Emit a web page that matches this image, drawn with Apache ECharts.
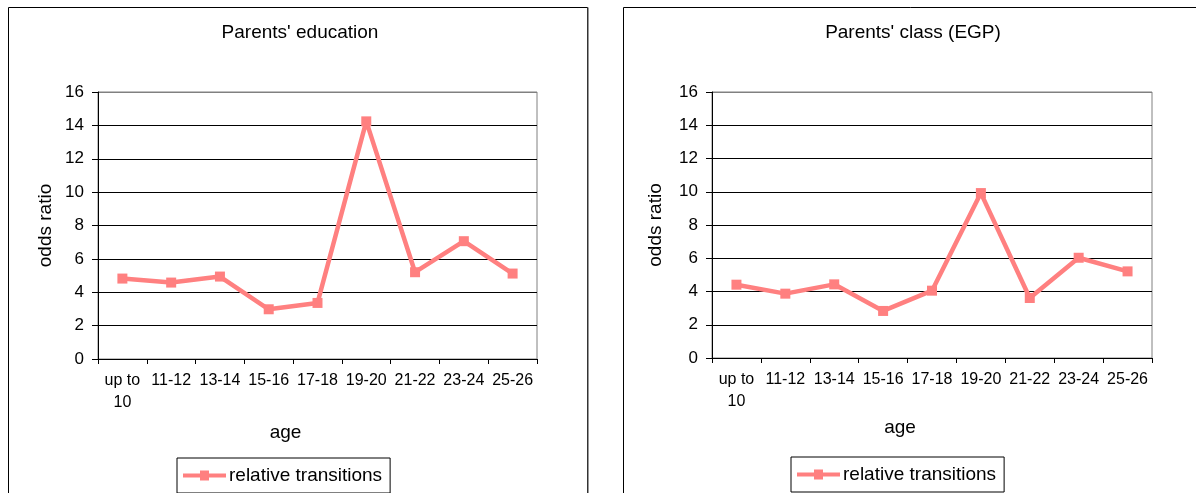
<!DOCTYPE html>
<html>
<head>
<meta charset="utf-8">
<title>Relative transitions by age</title>
<script src="https://cdn.jsdelivr.net/npm/echarts@6/dist/echarts.min.js"></script>
<style>
  html, body { margin: 0; padding: 0; background: #fff; }
  #chart { width: 1196px; height: 493px; }
</style>
</head>
<body>
<div id="chart"></div>
<script>
// Age groups shared by both panels
const ageGroups = ['up to\n10', '11-12', '13-14', '15-16', '17-18', '19-20', '21-22', '23-24', '25-26'];

// Odds ratios of relative transitions
const educationOdds = [4.82, 4.58, 4.94, 2.98, 3.36, 14.24, 5.2, 7.06, 5.12];
const classOdds = [4.41, 3.87, 4.43, 2.83, 4.05, 9.92, 3.61, 6.03, 5.21];

// Panel titles and shared labels
const panelTitles = ["Parents' education", "Parents' class (EGP)"];
const seriesName = 'relative transitions';
const xName = 'age';
const yName = 'odds ratio';

const FONT = '"Liberation Sans", Arial, sans-serif';
const LINE_COLOR = '#FF8080';

// Legend key: a thick line segment with a square marker in the middle
const LEGEND_ICON = 'path://M0,3H43V7H0Z M17,0H26V10H17Z';

// Grid line colours: black for interior ticks, grey where the top frame sits
const gridColors = ['#000', '#000', '#000', '#000', '#000', '#000', '#000', '#000', '#808080'];

function xAxis(gridIndex, nameGap) {
  return {
    type: 'category',
    gridIndex: gridIndex,
    data: ageGroups,
    boundaryGap: true,
    name: xName,
    nameLocation: 'middle',
    nameGap: nameGap,
    nameTextStyle: { fontFamily: FONT, fontSize: 19, color: '#000', padding: [0, 64, 0, 0] },
    axisLine: { show: true, lineStyle: { color: '#000', width: 1 } },
    axisTick: { show: true, inside: false, length: 5, alignWithLabel: false, lineStyle: { color: '#000' } },
    axisLabel: { fontFamily: FONT, fontSize: 16, color: '#000', margin: 11, lineHeight: 22, interval: 0 },
    splitLine: { show: false }
  };
}

function yAxis(gridIndex, nameGap) {
  return {
    type: 'value',
    gridIndex: gridIndex,
    min: 0,
    max: 16,
    interval: 2,
    name: yName,
    nameLocation: 'middle',
    nameRotate: 90,
    nameGap: nameGap,
    nameTextStyle: { fontFamily: FONT, fontSize: 19, color: '#000' },
    axisLine: { show: true, lineStyle: { color: '#000', width: 1 } },
    axisTick: { show: true, inside: false, length: 6, lineStyle: { color: '#000' } },
    axisLabel: { fontFamily: FONT, fontSize: 17, color: '#000', margin: 14 },
    splitLine: { show: true, lineStyle: { color: gridColors, width: 1 } }
  };
}

function lineSeries(xi, values) {
  return {
    type: 'line',
    name: seriesName,
    xAxisIndex: xi,
    yAxisIndex: xi,
    data: values,
    symbol: 'rect',
    symbolSize: 10,
    lineStyle: { color: LINE_COLOR, width: 4.5 },
    itemStyle: { color: LINE_COLOR },
    emphasis: { disabled: true },
    animation: false,
    z: 5
  };
}

function legend(left, top) {
  return {
    data: [{ name: seriesName, icon: LEGEND_ICON }],
    left: left,
    top: top,
    orient: 'horizontal',
    backgroundColor: '#fff',
    borderColor: '#000',
    borderWidth: 1,
    padding: [8, 8, 8, 6],
    itemWidth: 43,
    itemHeight: 10,
    itemGap: 4,
    selectedMode: false,
    itemStyle: { color: LINE_COLOR, borderWidth: 0 },
    textStyle: { fontFamily: FONT, fontSize: 19, color: '#000', padding: [0, 0, 0, -2] }
  };
}

const chart = echarts.init(document.getElementById('chart'), null, { renderer: 'canvas' });

chart.setOption({
  backgroundColor: '#fff',
  animation: false,
  textStyle: { fontFamily: FONT },
  graphic: [
    // Outer frames around each panel
    { type: 'rect', shape: { x: 8.5, y: 7.5, width: 579, height: 520 },
      style: { fill: null, stroke: '#000', lineWidth: 1 }, z: -1 },
    { type: 'rect', shape: { x: 587, y: 7.5, width: 1.5, height: 520 },
      style: { fill: '#333' }, z: -1 },
    { type: 'rect', shape: { x: 623.5, y: 7.5, width: 620, height: 520 },
      style: { fill: null, stroke: '#000', lineWidth: 1 }, z: -1 },
    // Panel titles
    { type: 'text', x: 300, y: 33,
      style: { text: panelTitles[0], font: '19px ' + FONT, fill: '#000', align: 'center', verticalAlign: 'middle' } },
    { type: 'text', x: 913, y: 33,
      style: { text: panelTitles[1], font: '19px ' + FONT, fill: '#000', align: 'center', verticalAlign: 'middle' } }
  ],
  grid: [
    { left: 98, top: 92, width: 439, height: 267, show: true, borderColor: '#808080', borderWidth: 1, backgroundColor: 'transparent', containLabel: false },
    { left: 712, top: 92, width: 440, height: 266, show: true, borderColor: '#808080', borderWidth: 1, backgroundColor: 'transparent', containLabel: false }
  ],
  xAxis: [xAxis(0, 64), xAxis(1, 52)],
  yAxis: [yAxis(0, 43), yAxis(1, 47)],
  legend: [legend(177, 458), legend(791, 457)],
  series: [lineSeries(0, educationOdds), lineSeries(1, classOdds)]
});
</script>
</body>
</html>
